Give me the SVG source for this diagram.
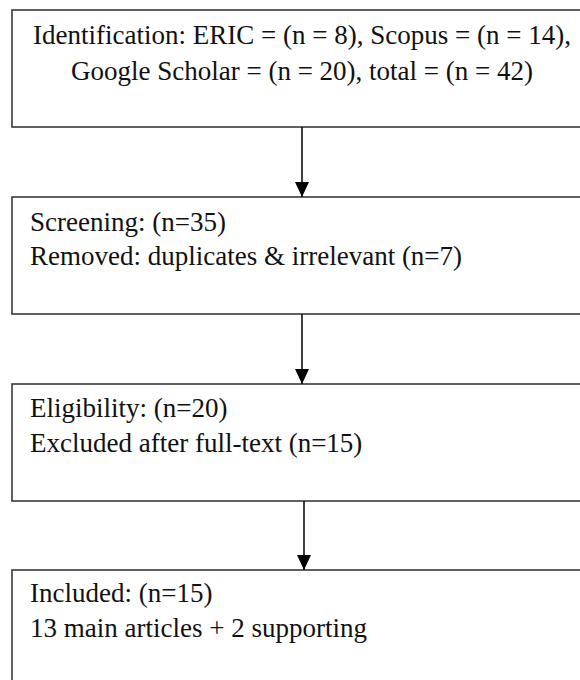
<svg xmlns="http://www.w3.org/2000/svg" width="580" height="680" viewBox="0 0 580 680">
  <style>
    .box { fill: #ffffff; stroke: #3a3a3a; stroke-width: 1.6; }
    .t { font-family: "Liberation Serif", "Times New Roman", serif; font-size: 27px; fill: #111111; }
    .c { text-anchor: middle; }
    .edge { stroke: #111111; stroke-width: 1.6; fill: none; }
  </style>
  <defs>
    <marker id="ah" viewBox="0 0 15 14" refX="15" refY="7" markerWidth="15" markerHeight="14" markerUnits="userSpaceOnUse" orient="auto">
      <path d="M0,0 L15,7 L0,14 Z" fill="#000000"/>
    </marker>
  </defs>
  <rect width="580" height="680" fill="#ffffff"/>
  <g id="identification">
    <rect class="box" x="12" y="10" width="580" height="117"/>
    <text class="t c" x="302" y="44">Identification: ERIC = (n = 8), Scopus = (n = 14),</text>
    <text class="t c" x="302" y="80">Google Scholar = (n = 20), total = (n = 42)</text>
  </g>
  <g id="screening">
    <rect class="box" x="12" y="197" width="580" height="117"/>
    <text class="t" x="30" y="231">Screening: (n=35)</text>
    <text class="t" x="30" y="265">Removed: duplicates &amp; irrelevant (n=7)</text>
  </g>
  <g id="eligibility">
    <rect class="box" x="12" y="384" width="580" height="117"/>
    <text class="t" x="30" y="417">Eligibility: (n=20)</text>
    <text class="t" x="30" y="452">Excluded after full-text (n=15)</text>
  </g>
  <g id="included">
    <rect class="box" x="12" y="570" width="580" height="117"/>
    <text class="t" x="30" y="602">Included: (n=15)</text>
    <text class="t" x="30" y="637">13 main articles + 2 supporting</text>
  </g>
  <g id="connectors">
    <line class="edge" x1="302" y1="127" x2="302" y2="197" marker-end="url(#ah)"/>
    <line class="edge" x1="302" y1="314" x2="302" y2="384" marker-end="url(#ah)"/>
    <line class="edge" x1="304" y1="501" x2="304" y2="570" marker-end="url(#ah)"/>
  </g>
</svg>
